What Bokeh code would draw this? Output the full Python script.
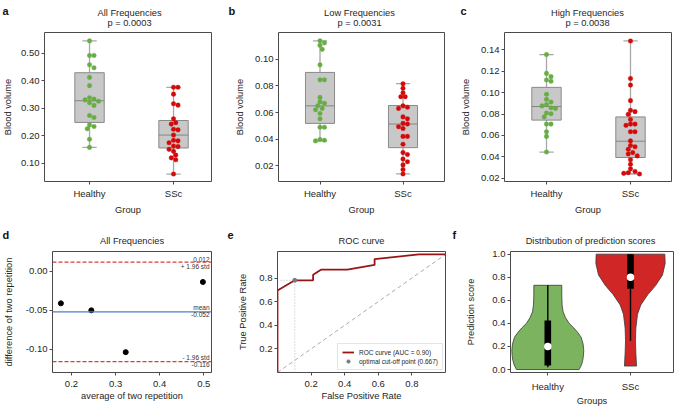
import numpy as np
from bokeh.plotting import figure
from bokeh.layouts import column, row
from bokeh.models import (Label, FixedTicker, NumeralTickFormatter, Range1d,
                          Legend, LegendItem, Span)
from bokeh.embed import file_html
from bokeh.resources import INLINE

FONT = "Liberation Sans"
TXT = "#262626"
EDGE = "#4a4a4a"
GREEN = "#67ad43"
RED = "#d30a0a"
BOXFILL = "#c8c8c8"
BOXEDGE = "#8a8a8a"
WHISK = "#a8a8a8"
TICK_FS = "9.5px"
LAB_FS = "9.3px"

groups = ["Healthy", "SSc"]

# ---------------- panel a : All Frequencies ----------------
all_title = "All Frequencies"
all_p = "p = 0.0003"
all_healthy = [0.545, 0.492, 0.492, 0.458, 0.447, 0.412, 0.382, 0.338, 0.333, 0.330,
               0.325, 0.320, 0.310, 0.273, 0.266, 0.239, 0.233, 0.225, 0.187, 0.157]
all_ssc = [0.376, 0.376, 0.351, 0.316, 0.311, 0.261, 0.247, 0.242, 0.223, 0.221, 0.202,
           0.183, 0.181, 0.174, 0.162, 0.160, 0.150, 0.143, 0.129, 0.119, 0.112, 0.060]
all_q1 = [0.248, 0.155]
all_med = [0.327, 0.202]
all_q3 = [0.429, 0.255]
all_lo = [0.157, 0.060]
all_hi = [0.545, 0.376]
all_yticks = [0.10, 0.20, 0.30, 0.40, 0.50]

# ---------------- panel b : Low Frequencies ----------------
low_title = "Low Frequencies"
low_p = "p = 0.0031"
low_healthy = [0.1140, 0.1125, 0.1106, 0.1076, 0.0959, 0.0846, 0.0846, 0.0714, 0.0680, 0.0670,
               0.0651, 0.0631, 0.0621, 0.0592, 0.0552, 0.0489, 0.0489, 0.0396, 0.0391, 0.0386]
low_ssc = [0.0817, 0.0783, 0.0748, 0.0719, 0.0719, 0.0650, 0.0640, 0.0631, 0.0567, 0.0552,
           0.0518, 0.0513, 0.0493, 0.0479, 0.0420, 0.0420, 0.0361, 0.0298, 0.0283, 0.0249,
           0.0229, 0.0205, 0.0170, 0.0137]
low_q1 = [0.0518, 0.0335]
low_med = [0.0650, 0.0513]
low_q3 = [0.0902, 0.0653]
low_lo = [0.0386, 0.0137]
low_hi = [0.1140, 0.0817]
low_yticks = [0.02, 0.04, 0.06, 0.08, 0.10]

# ---------------- panel c : High Frequencies ----------------
high_title = "High Frequencies"
high_p = "p = 0.0038"
high_healthy = [0.1355, 0.1179, 0.1149, 0.1118, 0.1106, 0.0985, 0.0937, 0.0912, 0.0888, 0.0876,
                0.0858, 0.0852, 0.0809, 0.0803, 0.0773, 0.0706, 0.0706, 0.0634, 0.0591, 0.0445]
high_ssc = [0.1482, 0.1131, 0.1070, 0.0925, 0.0834, 0.0822, 0.0797, 0.0749, 0.0706, 0.0706,
            0.0694, 0.0634, 0.0634, 0.0549, 0.0506, 0.0494, 0.0470, 0.0440, 0.0427, 0.0409,
            0.0373, 0.0331, 0.0288, 0.0264, 0.0252, 0.0246, 0.0240]
high_q1 = [0.0743, 0.0394]
high_med = [0.0870, 0.0546]
high_q3 = [0.1049, 0.0773]
high_lo = [0.0445, 0.0240]
high_hi = [0.1355, 0.1482]
high_yticks = [0.02, 0.04, 0.06, 0.08, 0.10, 0.12, 0.14]

# ---------------- panel d : Bland-Altman ----------------
ba_title = "All Frequencies"
ba_avg = [0.176, 0.245, 0.323, 0.498]
ba_diff = [-0.041, -0.050, -0.1038, -0.0135]
ba_mean = -0.052
ba_upper = 0.012
ba_lower = -0.116
ba_xticks = [0.2, 0.3, 0.4, 0.5]
ba_yticks = [-0.10, -0.05, 0.00]

# ---------------- panel e : ROC ----------------
roc_title = "ROC curve"
roc_fpr = [0.0, 0.0, 0.103, 0.212, 0.212, 0.261, 0.416, 0.578, 0.578, 0.842, 1.0]
roc_tpr = [0.0, 0.695, 0.781, 0.781, 0.828, 0.872, 0.872, 0.911, 0.961, 1.0, 1.0]
roc_auc = 0.90
opt_fpr = 0.103
opt_tpr = 0.781
opt_thr = 0.667
roc_ticks = [0.2, 0.4, 0.6, 0.8]

# ---------------- panel f : violins ----------------
vio_title = "Distribution of prediction scores"
healthy_vy = [0.73, 0.64, 0.56, 0.50, 0.45, 0.40, 0.36, 0.32, 0.28, 0.22, 0.165, 0.12, 0.08, 0.04, 0.0]
healthy_hw = [0.169, 0.169, 0.173, 0.185, 0.214, 0.258, 0.315, 0.363, 0.403, 0.427, 0.435, 0.431, 0.423, 0.407, 0.379]
ssc_vy = [1.0, 0.92, 0.82, 0.73, 0.65, 0.56, 0.48, 0.36, 0.25, 0.14, 0.03]
ssc_hw = [0.415, 0.419, 0.387, 0.306, 0.21, 0.125, 0.085, 0.065, 0.06, 0.065, 0.073]
score_lo = [0.02, 0.25]
score_q1 = [0.035, 0.70]
score_med = [0.20, 0.80]
score_q3 = [0.425, 1.0]
score_hi = [0.73, 1.0]
score_yticks = [0.0, 0.2, 0.4, 0.6, 0.8, 1.0]
VGREEN = "#7bb35e"
VRED = "#d02626"


def base_fig(width, height, left, right, top, bottom, xr, yr, xlabel, ylabel,
             xstand, ystand, xtick_stand):
    p = figure(width=width, height=height, x_range=Range1d(*xr), y_range=Range1d(*yr),
               output_backend="svg", toolbar_location=None,
               min_border_left=left, min_border_right=right,
               min_border_top=top, min_border_bottom=bottom)
    p.xgrid.visible = False
    p.ygrid.visible = False
    p.outline_line_color = EDGE
    p.outline_line_width = 1
    p.outline_line_alpha = 1
    p.background_fill_color = "white"
    p.border_fill_color = "white"
    for ax in list(p.xaxis) + list(p.yaxis):
        ax.axis_line_color = None
        ax.major_tick_line_color = EDGE
        ax.major_tick_out = 3
        ax.major_tick_in = 0
        ax.minor_tick_line_color = None
        ax.major_label_text_font = FONT
        ax.major_label_text_font_size = TICK_FS
        ax.major_label_text_color = TXT
        ax.major_label_standoff = 2
        ax.axis_label_text_font = FONT
        ax.axis_label_text_font_size = LAB_FS
        ax.axis_label_text_font_style = "normal"
        ax.axis_label_text_color = TXT
    p.xaxis.major_label_standoff = xtick_stand
    p.xaxis.axis_label = xlabel
    p.yaxis.axis_label = ylabel
    p.xaxis.axis_label_standoff = xstand
    p.yaxis.axis_label_standoff = ystand
    return p


def strip(height, y_top, y_bottom):
    s = figure(width=676, height=height, x_range=Range1d(0, 676),
               y_range=Range1d(y_bottom, y_top), output_backend="svg",
               toolbar_location=None, min_border=0, x_axis_location=None,
               y_axis_location=None, outline_line_color=None)
    s.grid.visible = False
    s.background_fill_color = "white"
    s.border_fill_color = "white"
    return s


def put(p, x, y, text, size=LAB_FS, align="center", baseline="middle", bold=False,
        color=TXT):
    p.add_layout(Label(x=x, y=y, text=text, text_font=FONT,
                       text_font_size=size, text_align=align, text_baseline=baseline,
                       text_color=color, text_font_style="bold" if bold else "normal"))


def swarm(vals, ky, kx, d=4.5):
    ys = np.asarray(vals, dtype=float) * ky
    offs = np.zeros(len(ys))
    placed = []
    cands = [0.0]
    for j in range(1, 14):
        cands += [j * d * 0.5, -j * d * 0.5]
    for i in np.argsort(-ys, kind="stable"):
        y = ys[i]
        for c in cands:
            if all((c - px) ** 2 + (y - py) ** 2 >= d * d * 0.97 for px, py in placed):
                break
        placed.append((c, y))
        offs[i] = c
    return offs / kx


def cat_axis(p):
    p.xaxis.ticker = FixedTicker(ticks=[0, 1])
    p.xaxis.major_label_overrides = {0: groups[0], 1: groups[1]}


def box_panel(width, left, right, xr, yr, healthy, ssc, q1, med, q3, lo, hi, yticks, ystand):
    H, top, bottom = 186, 1, 32
    p = base_fig(width, H, left, right, top, bottom, xr, yr, "Group", "Blood volume",
                 3, ystand, 3)
    fw = width - left - right
    fh = H - top - bottom
    kx = fw / (xr[1] - xr[0])
    ky = fh / (yr[1] - yr[0])
    xs = [0, 1]
    cap = 0.085
    bw = 0.35
    p.segment(x0=xs, y0=lo, x1=xs, y1=hi, line_color=WHISK, line_width=1.3)
    p.segment(x0=[x - cap for x in xs], y0=lo, x1=[x + cap for x in xs], y1=lo,
              line_color=WHISK, line_width=1.3)
    p.segment(x0=[x - cap for x in xs], y0=hi, x1=[x + cap for x in xs], y1=hi,
              line_color=WHISK, line_width=1.3)
    p.vbar(x=xs, width=bw, bottom=q1, top=q3, fill_color=BOXFILL, line_color=BOXEDGE,
           line_width=1)
    p.segment(x0=[x - bw / 2 for x in xs], y0=med, x1=[x + bw / 2 for x in xs], y1=med,
              line_color="#858585", line_width=1)
    for i, (vals, col) in enumerate(((healthy, GREEN), (ssc, RED))):
        off = swarm(vals, ky, kx)
        p.scatter(x=i + off, y=vals, size=4.6, fill_color=col, line_color=col, line_width=0.3)
    cat_axis(p)
    p.yaxis.ticker = FixedTicker(ticks=yticks)
    p.yaxis.formatter = NumeralTickFormatter(format="0.00")
    return p


# ---------------- row 1 ----------------
s1 = strip(31, 0, 31)
for lx, letter, cx, title, pv in ((2, "a", 129, all_title, all_p),
                                  (228, "b", 359, low_title, low_p),
                                  (460, "c", 587, high_title, high_p)):
    put(s1, lx, 10, letter, size="11px", align="left", baseline="alphabetic", bold=True,
        color="#111111")
    put(s1, cx, 12.6, title)
    put(s1, cx, 22.6, pv)

pa = box_panel(232, 44, 21, (-0.536, 1.452), (0.0329, 0.5755), all_healthy, all_ssc,
               all_q1, all_med, all_q3, all_lo, all_hi, all_yticks, 5)
pb = box_panel(226, 44, 14, (-0.5, 1.5), (0.0080, 0.1203), low_healthy, low_ssc,
               low_q1, low_med, low_q3, low_lo, low_hi, low_yticks, 7)
pc = box_panel(218, 46, 5, (-0.5, 1.488), (0.0170, 0.1561), high_healthy, high_ssc,
               high_q1, high_med, high_q3, high_lo, high_hi, high_yticks, 7)

# ---------------- row 2 ----------------
s2 = strip(29, 217, 246)
for lx, letter, cx, title in ((2, "d", 131.5, ba_title), (227, "e", 361, roc_title),
                              (452, "f", 590, vio_title)):
    put(s2, lx, 234.5, letter, size="11px", align="left", baseline="alphabetic", bold=True,
        color="#111111")
    put(s2, cx, 240, title)

H2, TOP2, BOT2 = 162, 5, 34

# d
pd_ = base_fig(232, H2, 52, 21, TOP2, BOT2, (0.157, 0.5175), (-0.1300, 0.0257),
               "average of two repetition", "difference of two repetition", 1, 9, 5)
for loc, col, dash in ((ba_upper, "#dd3b3b", "4 2"), (ba_lower, "#dd3b3b", "4 2"),
                       (ba_mean, "#4f7fc4", "solid")):
    pd_.add_layout(Span(location=loc, dimension="width", line_color=col,
                        line_dash=dash, line_width=1.1))
pd_.scatter(x=ba_avg, y=ba_diff, size=5, fill_color="black", line_color="black")
pd_.xaxis.ticker = FixedTicker(ticks=ba_xticks)
pd_.xaxis.formatter = NumeralTickFormatter(format="0.0")
pd_.yaxis.ticker = FixedTicker(ticks=ba_yticks)
pd_.yaxis.formatter = NumeralTickFormatter(format="0.00")
x_end = pd_.x_range.end
for yv, above, below in ((ba_upper, f"{ba_upper:.3f}", "+ 1.96 std"),
                         (ba_mean, "mean", f"{ba_mean:.3f}"),
                         (ba_lower, "- 1.96 std", f"{ba_lower:.3f}")):
    pd_.add_layout(Label(x=x_end, y=yv, x_offset=-2, text=above,
                         text_font=FONT, text_font_size="6.5px", text_align="right",
                         text_baseline="bottom", text_color="#333333", y_offset=0.5))
    pd_.add_layout(Label(x=x_end, y=yv, x_offset=-2, text=below,
                         text_font=FONT, text_font_size="6.5px", text_align="right",
                         text_baseline="top", text_color="#333333", y_offset=-0.5))

# e
pe = base_fig(226, H2, 45, 13, TOP2, BOT2, (0.0, 1.0), (0.0, 1.025),
              "False Positive Rate", "True Positive Rate", 1, 8, 5)
pe.line(x=[0, 1], y=[0, 1], line_color="#aaaaaa", line_dash="4 3", line_width=1)
pe.line(x=[0, opt_fpr], y=[opt_tpr, opt_tpr], line_color="#aaaaaa", line_dash="1 2",
        line_width=0.8)
pe.line(x=[opt_fpr, opt_fpr], y=[0, opt_tpr], line_color="#aaaaaa", line_dash="1 2",
        line_width=0.8)
roc_r = pe.line(x=roc_fpr, y=roc_tpr, line_color="#9b1414", line_width=1.8)
opt_r = pe.scatter(x=[opt_fpr], y=[opt_tpr], size=4, fill_color="#7a7a7a",
                   line_color="#7a7a7a")
leg = Legend(items=[LegendItem(label=f"ROC curve (AUC = {roc_auc:.2f})", renderers=[roc_r]),
                    LegendItem(label=f"optimal cut-off point ({opt_thr:.3f})",
                               renderers=[opt_r])],
             location="bottom_right")
leg.label_text_font = FONT
leg.label_text_font_size = "6.5px"
leg.label_text_color = TXT
leg.glyph_width = 12
leg.glyph_height = 8
leg.label_height = 8
leg.label_standoff = 5
leg.spacing = 1
leg.padding = 4
leg.margin = 2
leg.border_line_color = "#cccccc"
leg.border_line_width = 0.8
leg.background_fill_alpha = 0.9
pe.add_layout(leg)
pe.xaxis.ticker = FixedTicker(ticks=roc_ticks)
pe.yaxis.ticker = FixedTicker(ticks=roc_ticks)
pe.xaxis.formatter = NumeralTickFormatter(format="0.0")
pe.yaxis.formatter = NumeralTickFormatter(format="0.0")

# f
pf = base_fig(218, H2, 52, 3, TOP2, BOT2, (-0.451, 1.52), (-0.026, 1.023),
              "Groups", "Prediction score", 1, 13, 5)
for cx, vy, hw, col in ((0, healthy_vy, healthy_hw, VGREEN), (1, ssc_vy, ssc_hw, VRED)):
    xs = [cx + w for w in hw] + [cx - w for w in reversed(hw)]
    ys = list(vy) + list(reversed(vy))
    pf.patch(xs, ys, fill_color=col, line_color="#3a3a3a", line_width=0.8)
pf.segment(x0=[0, 1], y0=score_lo, x1=[0, 1], y1=score_hi, line_color="black", line_width=1.4)
pf.vbar(x=[0, 1], width=0.08, bottom=score_q1, top=score_q3, fill_color="black",
        line_color=None)
pf.scatter(x=[0, 1], y=score_med, size=7.5, fill_color="white", line_color=None)
cat_axis(pf)
pf.yaxis.ticker = FixedTicker(ticks=score_yticks)
pf.yaxis.formatter = NumeralTickFormatter(format="0.0")

layout = column(s1, row(pa, pb, pc, spacing=0), s2, row(pd_, pe, pf, spacing=0), spacing=0)
open("out.html", "w").write(file_html(layout, INLINE))
